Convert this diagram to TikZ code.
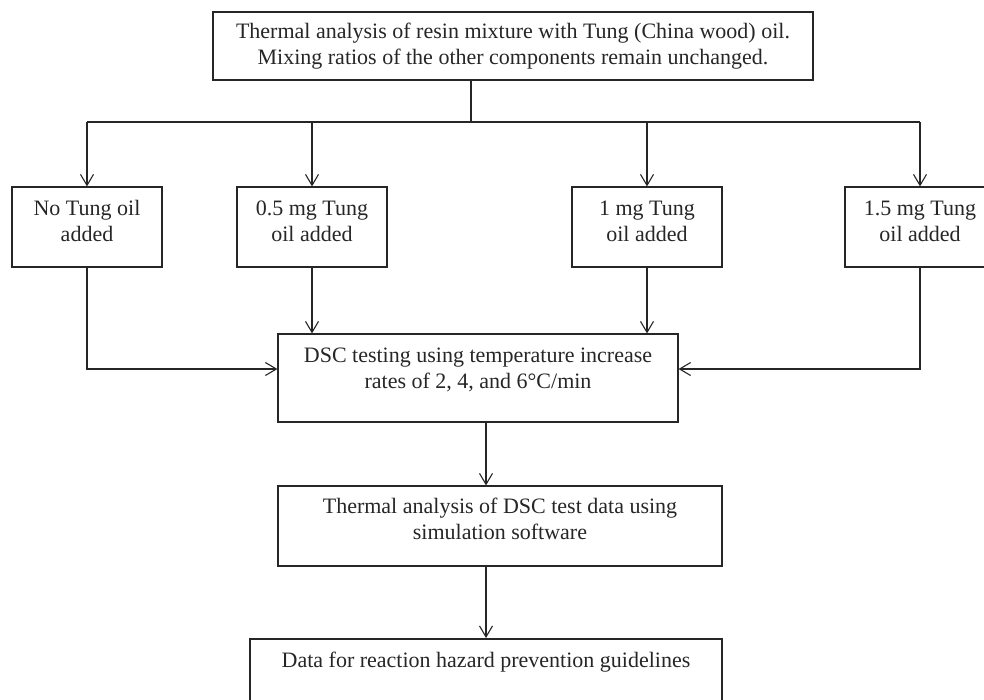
\documentclass[tikz,border=0pt]{standalone}
\usepackage{fontspec}
\setmainfont{Liberation Serif}
\usepackage{tikz}
\usetikzlibrary{arrows.meta,positioning,calc}
\definecolor{FlowInk}{HTML}{262626}
\newcommand{\lowpad}[1]{\rule[-#1pt]{0pt}{0pt}}

\begin{document}
\begin{tikzpicture}[x=1pt,y=-1pt,>={Straight Barb[length=11pt,width=13pt]},
  flowbox/.style={draw=FlowInk,line width=1.1pt,text=FlowInk,align=center,
    inner sep=0pt,font=\fontsize{22}{26}\selectfont},
  oilbox/.style={flowbox,minimum width=150pt,minimum height=80pt},
  flowline/.style={draw=FlowInk,line width=1.1pt}]
  \useasboundingbox (0,0) rectangle (984,699);
  % Resin mixture on top.
  \node[flowbox,minimum width=600pt,minimum height=68pt] (mix) at (513,46)
       {Thermal analysis of resin mixture with Tung (China wood) oil.\\
        Mixing ratios of the other components remain unchanged.};
  % Four Tung oil amounts.
  \node[oilbox] (none)  at (87,227)  {No Tung oil\\added\lowpad{12}};
  \node[oilbox] (oilA)  at (312,227) {0.5 mg Tung\\oil added\lowpad{12}};
  \node[oilbox] (oilB)  at (647,227) {1 mg Tung\\oil added\lowpad{12}};
  \node[oilbox] (oilC)  at (920,227) {1.5 mg Tung\\oil added\lowpad{12}};
  % DSC test and analysis.
  \node[flowbox,minimum width=400pt,minimum height=88pt] (dsc) at (478,378)
       {DSC testing using temperature increase\\
        rates of 2, 4, and 6°C/min\lowpad{19}};
  \node[flowbox,minimum width=444pt,minimum height=80pt] (sim) at (500,526)
       {Thermal analysis of DSC test data using\\simulation software\lowpad{15}};
  \node[flowbox,line width=2pt,minimum width=472pt,minimum height=68pt] (guide)
       at (486,673) {Data for reaction hazard prevention guidelines\lowpad{27}};
  % Split into the four samples.
  \coordinate (split) at (471,122);
  \draw[flowline] (mix.south -| split) -- (split);
  \draw[flowline] (none.north |- split) -- (oilC.north |- split);
  \foreach \n in {none,oilA,oilB,oilC}
    \draw[flowline,->] (\n.north |- split) -- (\n.north);
  % Samples into DSC.
  \draw[flowline,->] (none.south) |- ([yshift=9pt]dsc.west);
  \draw[flowline,->] (oilC.south) |- ([yshift=9pt]dsc.east);
  \draw[flowline,->] (oilA.south) -- (oilA.south |- dsc.north);
  \draw[flowline,->] (oilB.south) -- (oilB.south |- dsc.north);
  % Down to the guidelines.
  \draw[flowline,->] (dsc.south -| guide.north) -- (sim.north -| guide.north);
  \draw[flowline,->] (sim.south -| guide.north) -- (guide.north);
\end{tikzpicture}
\end{document}
